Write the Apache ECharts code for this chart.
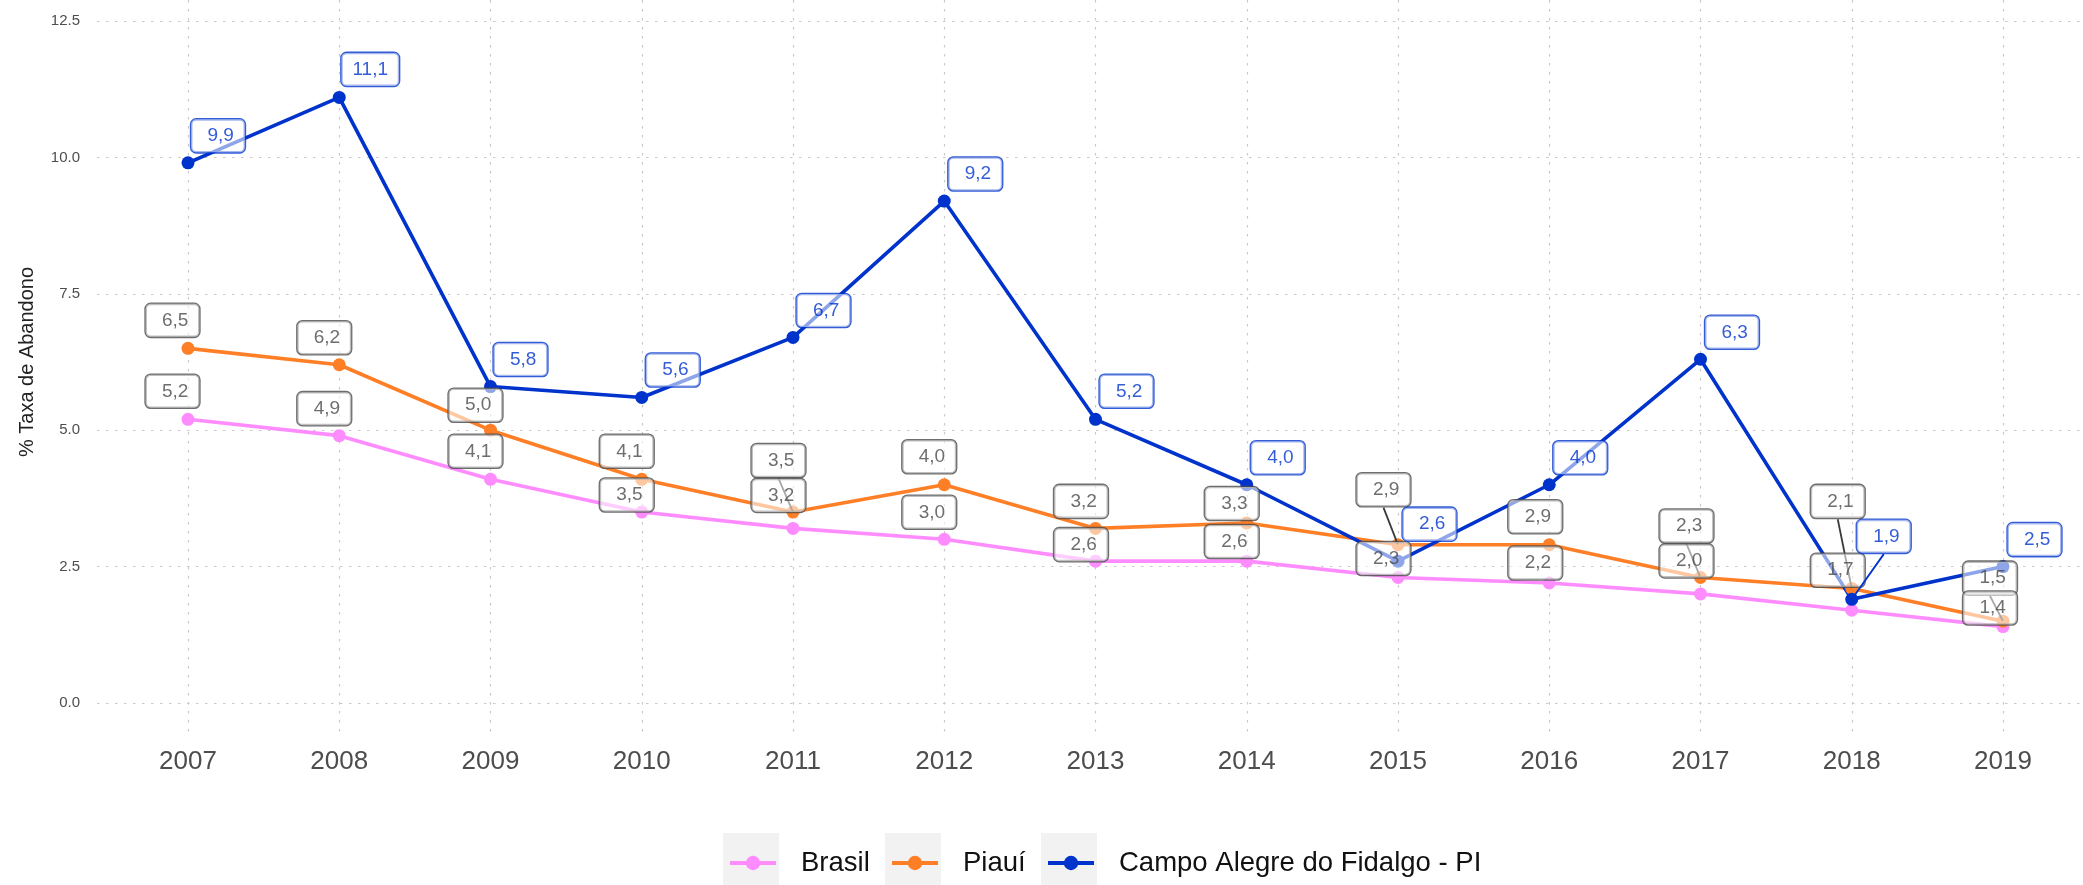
<!DOCTYPE html>
<html>
<head>
<meta charset="utf-8">
<script src="https://cdn.jsdelivr.net/npm/echarts@6/dist/echarts.min.js"></script>
<style>
  html, body { margin: 0; padding: 0; background: #ffffff; }
  #chart { width: 2083px; height: 885px; }
</style>
</head>
<body>
<div id="chart"></div>
<script>
// Taxa de abandono (%) por ano
const years  = [2007, 2008, 2009, 2010, 2011, 2012, 2013, 2014, 2015, 2016, 2017, 2018, 2019];
const brasil = [5.2, 4.9, 4.1, 3.5, 3.2, 3.0, 2.6, 2.6, 2.3, 2.2, 2.0, 1.7, 1.4];
const piaui  = [6.5, 6.2, 5.0, 4.1, 3.5, 4.0, 3.2, 3.3, 2.9, 2.9, 2.3, 2.1, 1.5];
const campo  = [9.9, 11.1, 5.8, 5.6, 6.7, 9.2, 5.2, 4.0, 2.6, 4.0, 6.3, 1.9, 2.5];
const seriesNames = ['Brasil', 'Piauí', 'Campo Alegre do Fidalgo - PI'];
const yTickStep = 2.5;

// Colours
const colors = ['#FF8CFF', '#FF7F27', '#0033CC'];
const labelGray = '#4a4a4a';
const FONT = '"Liberation Sans", Arial, Helvetica, sans-serif';

// Repelled label offsets (pixels, from each point to its label centre)
const brasilNudge = [[-15.5,-28],[-15,-27],[-15,-28],[-15,-17],[-14.5,-33],[-15,-27],[-14.5,-16.5],[-15,-19.6],[-14.5,-19],[-14,-20],[-14,-33],[-14,-40],[-13,-18.6]];
const piauiNudge  = [[-15.5,-28],[-15,-27],[-15,-25],[-15,-28],[-14.5,-51.5],[-15,-28],[-14.5,-27],[-15,-19.5],[-14.5,-55],[-14,-28],[-14,-51.5],[-14,-87],[-13,-43]];
const campoNudge  = [[30,-27],[31,-28],[30,-27],[31,-27.5],[30.5,-27],[31,-27],[31,-28],[31,-27],[31.5,-37],[31,-27],[31.5,-27],[32,-63],[31.5,-27]];
// Labels that get a leader segment back to their point
const brasilSegments = [];
const piauiSegments  = [4, 8, 10, 11, 12];
const campoSegments  = [11];

function fmt(v) {
  const s = v.toFixed(1).replace('.', ',');
  return s.length < 4 ? ' ' + s : s;
}

function pairs(values) {
  return years.map((y, i) => [y, values[i]]);
}

function lineSeries(name, values, color) {
  return {
    name: name,
    type: 'line',
    xAxisIndex: 0,
    yAxisIndex: 0,
    data: pairs(values),
    symbol: 'circle',
    symbolSize: 13,
    showSymbol: true,
    lineStyle: { color: color, width: 3.6 },
    itemStyle: { color: color },
    z: 2,
    silent: true
  };
}

function labelSeries(name, values, textColor, nudge, segments, segColor, z) {
  return {
    name: name + ' rótulos',
    type: 'scatter',
    xAxisIndex: 0,
    yAxisIndex: 0,
    symbolSize: 1,
    itemStyle: { color: 'rgba(0,0,0,0)' },
    z: z,
    silent: true,
    data: years.map((y, i) => ({
      value: [y, values[i]],
      labelLine: { show: segments.indexOf(i) >= 0 }
    })),
    label: {
      show: true,
      position: 'inside',
      formatter: p => fmt(p.value[1]),
      fontFamily: FONT,
      fontSize: 19,
      lineHeight: 21,
      color: textColor,
      backgroundColor: 'rgba(255,255,255,0.7)',
      borderColor: textColor,
      borderWidth: 1.3,
      borderRadius: 5,
      padding: [6, 11, 6, 11]
    },
    labelLine: {
      show: false,
      lineStyle: { color: segColor, width: 1.8 }
    },
    labelLayout: function (p) {
      const n = nudge[p.dataIndex];
      return { dx: n[0], dy: n[1] };
    }
  };
}

const chart = echarts.init(document.getElementById('chart'), null, { renderer: 'canvas' });

const dotted = { show: true, lineStyle: { color: '#c9c9c9', width: 1.2, type: [2.5, 6.5] } };

const legendBase = {
  orient: 'horizontal',
  top: 848,
  padding: 0,
  itemWidth: 46,
  itemHeight: 18,
  selectedMode: false,
  lineStyle: { width: 4 },
  textStyle: { fontFamily: FONT, fontSize: 27.5, lineHeight: 30, color: '#111111', padding: [0, 0, 0, 20] }
};
const legendIconX = [728, 890, 1046];
const keyBoxX = [723, 885, 1041];

const option = {
  backgroundColor: '#ffffff',
  animation: false,
  textStyle: { fontFamily: FONT },
  grid: [
    { left: 188, width: 1815, top: 0, height: 735, containLabel: false },
    { left: 97, width: 1997, top: 21, height: 682, containLabel: false }
  ],
  xAxis: [
    {
      gridIndex: 0, type: 'value', min: years[0], max: years[years.length - 1], interval: 1,
      axisLine: { show: false }, axisTick: { show: false },
      splitLine: dotted,
      axisLabel: { fontFamily: FONT, fontSize: 26, color: '#4d4d4d', margin: 14, formatter: v => String(v) }
    },
    { gridIndex: 1, type: 'value', min: 0, max: 1, show: false }
  ],
  yAxis: [
    { gridIndex: 0, type: 'value', min: -0.5865, max: 12.8849, show: false },
    {
      gridIndex: 1, type: 'value', min: 0, max: 12.5, interval: yTickStep,
      axisLine: { show: false }, axisTick: { show: false },
      splitLine: dotted,
      axisLabel: { fontFamily: FONT, fontSize: 15, color: '#4d4d4d', margin: 17, formatter: v => v.toFixed(1) },
      name: '% Taxa de Abandono',
      nameLocation: 'middle',
      nameRotate: 90,
      nameGap: 60,
      nameTextStyle: { fontFamily: FONT, fontSize: 20, color: '#222222' }
    }
  ],
  legend: seriesNames.map((n, i) => Object.assign({}, legendBase, { data: [n], left: legendIconX[i] })),
  graphic: keyBoxX.map(x => ({
    type: 'rect', left: x, top: 833, z: -1, silent: true,
    shape: { width: 56, height: 60 },
    style: { fill: '#f2f2f2' }
  })),
  series: [
    lineSeries(seriesNames[0], brasil, colors[0]),
    lineSeries(seriesNames[1], piaui, colors[1]),
    lineSeries(seriesNames[2], campo, colors[2]),
    labelSeries(seriesNames[1], piaui, labelGray, piauiNudge, piauiSegments, '#3a3a3a', 5),
    labelSeries(seriesNames[0], brasil, labelGray, brasilNudge, brasilSegments, '#3a3a3a', 6),
    labelSeries(seriesNames[2], campo, colors[2], campoNudge, campoSegments, colors[2], 7)
  ]
};

chart.setOption(option);
</script>
</body>
</html>
